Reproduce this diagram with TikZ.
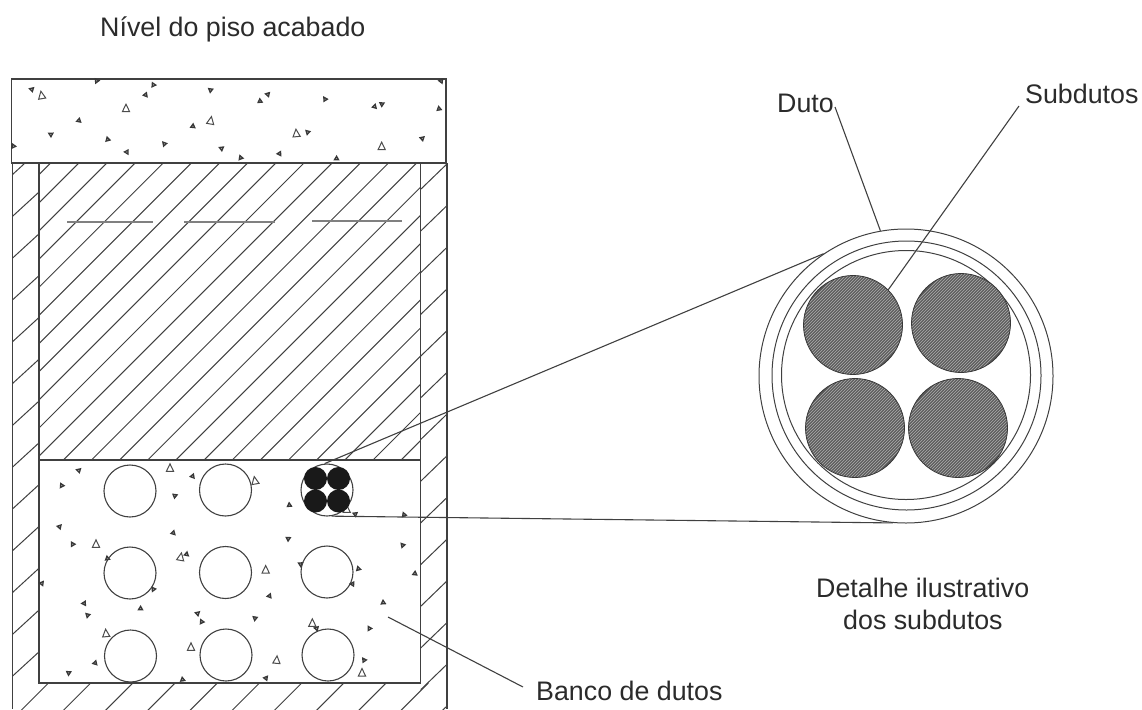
\documentclass[tikz,border=0pt]{standalone}
\usepackage{fontspec}
\setmainfont{Liberation Sans}
\definecolor{ink}{HTML}{404040}
\definecolor{txt}{HTML}{2B2B2B}
\tikzset{
  ln/.style={draw=ink,line width=1.1pt},
  hatchln/.style={draw=ink,line width=1pt},
  lbl/.style={inner sep=0pt,anchor=base west,text=txt,font=\fontsize{26.8}{32}\selectfont,align=left},
  duct/.style={circle,draw=ink,line width=1.1pt,inner sep=0pt,minimum size=52pt},
  tiny/.style={circle,fill=black!90,draw=none,inner sep=0pt,minimum size=23pt},
  ring/.style={circle,draw=ink,line width=1pt,inner sep=0pt},
  subd/.style={circle,fill=black!65,draw=black!78,line width=0.8pt,inner sep=0pt,minimum size=99pt,
    path picture={\foreach \d in {-66,-63,...,66}{
      \draw[black!35,line width=0.7pt] ([shift={(\d-60pt,-60pt)}]path picture bounding box.center) -- ++(120pt,120pt);}}},
  smalltri/.style={draw=black!78,fill=black!30,line width=1.3pt},
  bigtri/.style={draw=black!70,line width=1pt},
}
\begin{document}
\begin{tikzpicture}[x=1pt,y=-1pt]
\useasboundingbox (0,0) rectangle (1142,709);
% hatching
\begin{scope}
 \clip (39,163.5) rectangle (420.5,460);
 \foreach \k in {-1,...,23}{\draw[hatchln] ({78.3+28.15*\k},163.5) -- ++(-296.5,296.5);}
\end{scope}
\begin{scope}
 \clip (12.5,163.5) rectangle (39,709);
 \foreach \k in {0,...,12}{\draw[hatchln] (12,{175+41.8*\k}) -- ++(30,-27.5);}
\end{scope}
\begin{scope}
 \clip (420.5,163.5) rectangle (447,709);
 \foreach \k in {-6,...,8}{\draw[hatchln] (420.5,{398+41.7*\k}) -- ++(30,-29);}
\end{scope}
\begin{scope}
 \clip (12.5,683) rectangle (447,709);
 \foreach \k in {0,...,9}{\draw[hatchln] ({48.5+42.2*\k},683) -- ++(-30,30);}
\end{scope}
% grey level marks
\draw[draw=black!50,line width=1.1pt] (67,222) -- (153,222);
\draw[draw=black!50,line width=1.1pt] (184,222) -- (275,222);
\draw[draw=black!50,line width=1.1pt] (312,221) -- (402,221);
% structure
\draw[ln] (11.5,79) rectangle (446,163);
\draw[ln] (12.5,163) -- (12.5,709);
\draw[ln] (447,163) -- (447,709);
\draw[ln] (39,163) -- (39,683) -- (420.5,683) -- (420.5,163);
\draw[ln] (39,460) -- (420.5,460);
% aggregate, small
\foreach \x/\y [count=\i] in {95/88,460/75,437/105,632/90,780/123,803/103,975/118,1124/140,1146/132,1317/146,1323/63,290/63,237/182,153/223,323/238,380/276,493/252,579/199,665/265,722/293,838/281,923/217,1010/296,1267/235,40/258}
 {\draw[smalltri,rotate around={\i*73:({\x/3},{\y/3+60})}] ({\x/3},{\y/3+60-2.2}) -- ++(2,3.5) -- ++(-4,0) -- cycle;}
\foreach \x/\y [count=\i] in {236/91,185/137,578/109,525/167,868/195,178/260,218/313,520/279,865/296,322/355,125/430,460/448,560/343,902/372,1075/386,1057/432,1208/316,1245/401,1066/222,1212/224,252/490,263/526,422/506,593/520,605/545,808/468,765/535,1150/488,950/565,1108/565,285/669,206/699,548/719,798/714,1092/660}
 {\draw[smalltri,rotate around={\i*73:({\x/3},{\y/3+440})}] ({\x/3},{\y/3+440-2.2}) -- ++(2,3.5) -- ++(-4,0) -- cycle;}
% aggregate, large
\foreach \x/\y/\r in {125/107/10,378/146/0,632/183/-10,889/221/5,1145/260/0}
 {\draw[bigtri,rotate around={\r:({\x/3},{\y/3+60})}] ({\x/3},{\y/3+60-4.5}) -- ++(3.6,7.5) -- ++(-7.2,0) -- cycle;}
\foreach \x/\y/\r in {510/85/0,765/123/10,288/313/0,542/352/-10,797/390/0,318/581/5,573/622/0,830/661/-5,1086/699/0,937/550/0,1040/208/0}
 {\draw[bigtri,rotate around={\r:({\x/3},{\y/3+440})}] ({\x/3},{\y/3+440-4.5}) -- ++(3.6,7.5) -- ++(-7.2,0) -- cycle;}
% ducts
\node[duct] (d11) at (130,491) {};
\node[duct] (d12) at (225.5,490) {};
\node[duct] (d13) at (327,490) {};
\node[duct] (d21) at (130,573) {};
\node[duct] (d22) at (225.5,572.5) {};
\node[duct] (d23) at (327,572) {};
\node[duct] (d31) at (130.5,656) {};
\node[duct] (d32) at (226,655) {};
\node[duct] (d33) at (328,655) {};
\node[tiny] (t1) at (315.5,478.5) {};
\node[tiny] (t2) at (338.5,478.5) {};
\node[tiny] (t3) at (315.5,501) {};
\node[tiny] (t4) at (338.5,501) {};
% detail
\node[ring,minimum size=294pt] (outer) at (906,376) {};
\node[ring,minimum size=269pt] (middle) at (906.5,375.5) {};
\node[ring,minimum size=249pt] (inner) at (906,375) {};
\node[subd] (s1) at (853,325) {};
\node[subd] (s2) at (961,323) {};
\node[subd] (s3) at (855,428) {};
\node[subd] (s4) at (958,428) {};
% labels
\node[lbl] (title) at (100,37) {Nível do piso acabado};
\node[lbl] (duto) at (777,112) {Duto};
\node[lbl] (subdutos) at (1025,103) {Subdutos};
\node[lbl] (banco) at (536,700) {Banco de dutos};
\node[lbl] (det1) at (816,597) {Detalhe ilustrativo};
\node[lbl] (det2) at (843,629) {dos subdutos};
% connectors
\coordinate (dutoEnd) at (835,107);
\coordinate (subEnd) at (1019,106);
\coordinate (bancoEnd) at (523,687);
\coordinate (bancoIn) at (388,617);
\draw[ln] (d13.95) -- (outer.124);
\draw[ln] (d13.-80) -- (outer.265);
\draw[ln] (dutoEnd) -- (outer.100);
\draw[ln] (subEnd) -- (s1.45);
\draw[ln] (bancoIn) -- (bancoEnd);
\end{tikzpicture}
\end{document}
